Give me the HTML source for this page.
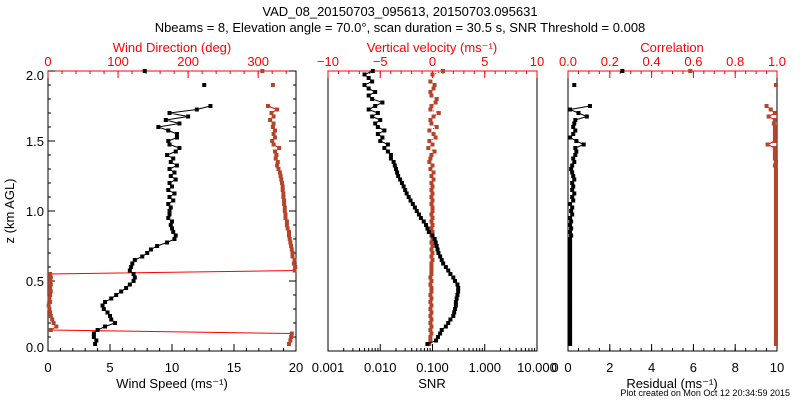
<!DOCTYPE html>
<html><head><meta charset="utf-8"><style>
html,body{margin:0;padding:0;background:#fff;}
svg{display:block;font-family:"Liberation Sans",sans-serif;}
</style></head><body>
<svg id="c" width="800" height="400" xmlns="http://www.w3.org/2000/svg">
<text x="400" y="16" font-size="13" text-anchor="middle">VAD_08_20150703_095613, 20150703.095631</text>
<text x="400" y="32" font-size="13" text-anchor="middle">Nbeams = 8, Elevation angle = 70.0°, scan duration = 30.5 s, SNR Threshold = 0.008</text>
<text transform="translate(14,211) rotate(-90)" font-size="13" text-anchor="middle">z (km AGL)</text>
<text x="790" y="396" font-size="9" text-anchor="end">Plot created on Mon Oct 12 20:34:59 2015</text>
<text x="555" y="372" font-size="13" text-anchor="middle">0</text>
</svg>
<script>
const heights=[0.05,0.075,0.1,0.125,0.15,0.175,0.2,0.225,0.25,0.275,0.3,0.325,0.35,0.375,0.4,0.425,0.45,0.475,0.5,0.525,0.55,0.575,0.6,0.625,0.65,0.675,0.7,0.725,0.75,0.775,0.8,0.825,0.85,0.875,0.9,0.925,0.95,0.975,1.0,1.025,1.05,1.075,1.1,1.125,1.15,1.175,1.2,1.225,1.25,1.275,1.3,1.325,1.35,1.375,1.4,1.425,1.45,1.475,1.5,1.525,1.55,1.575,1.6,1.625,1.65,1.675,1.7,1.725,1.75,1.775,1.8,1.825,1.85,1.875,1.9,1.925,1.95,1.975,2.0];
const windSpeed=[3.8,3.9,3.7,3.7,4.0,4.6,5.4,5.1,5.0,4.8,4.5,4.4,4.6,5.1,5.5,5.9,6.3,6.6,6.9,7.0,6.9,6.6,6.7,6.8,7.0,7.6,8.0,8.3,8.8,9.6,10.2,10.3,10.1,10.0,9.9,10.0,9.7,9.8,9.8,9.9,9.7,10.1,9.8,10.2,9.7,10.0,9.8,10.3,9.9,10.2,9.8,10.4,9.9,10.1,9.6,10.3,10.6,9.8,9.7,10.4,10.4,9.7,8.9,10.6,9.5,11.3,9.8,12.0,13.1,null,null,null,null,null,12.6,null,null,null,7.8];
const windDir=[344,346,347,348,4,12,8,6,4,3,2,1,3,2,3,4,3,4,3,4,3,352,353,351,352,349,349,348,347,346,345,344,344,342,341,341,339,339,338,338,337,337,336,336,335,335,334,333,332,331,329,327,328,325,326,324,330,322,320,324,322,324,321,322,317,322,319,327,314,null,null,null,null,null,321,null,null,null,306];
const vertVel=[-0.3,-0.2,-0.2,-0.1,-0.2,-0.1,-0.2,-0.1,-0.2,-0.1,-0.2,-0.1,-0.2,-0.1,-0.2,-0.1,-0.1,-0.2,-0.1,-0.2,-0.1,-0.1,-0.1,-0.1,0.0,-0.1,0.0,-0.1,0.0,-0.1,0.0,-0.1,0.0,-0.1,0.0,-0.1,0.0,-0.1,0.0,0.0,-0.1,0.0,-0.1,0.0,-0.1,0.0,-0.1,0.1,-0.1,0.1,-0.2,0.0,-0.3,-0.2,-0.1,0.2,-0.4,0.0,-0.3,0.3,0.1,-0.3,0.4,-0.1,-0.2,0.1,0.6,-0.2,-0.1,0.3,0.4,-0.1,-0.2,0.1,0.2,-0.2,null,0.0,1.0];
const snr=[0.08,0.117,0.127,0.14,0.15,0.18,0.2,0.22,0.25,0.26,0.27,0.28,0.28,0.29,0.3,0.31,0.31,0.3,0.27,0.25,0.22,0.2,0.18,0.16,0.15,0.14,0.13,0.125,0.12,0.115,0.11,0.1,0.085,0.08,0.075,0.068,0.06,0.055,0.05,0.046,0.042,0.038,0.035,0.032,0.03,0.028,0.026,0.024,0.022,0.021,0.02,0.019,0.018,0.016,0.016,0.014,0.012,0.014,0.01,0.011,0.009,0.012,0.009,0.008,0.01,0.007,0.009,0.006,0.008,0.011,0.007,0.006,0.008,0.006,0.005,0.007,0.006,0.005,0.0072];
const residual=[0.1,0.1,0.1,0.1,0.1,0.1,0.1,0.1,0.1,0.1,0.1,0.1,0.1,0.1,0.1,0.1,0.1,0.1,0.1,0.1,0.1,0.1,0.1,0.1,0.1,0.1,0.1,0.1,0.1,0.1,0.1,0.15,0.1,0.15,0.1,0.15,0.1,0.2,0.15,0.2,0.1,0.25,0.2,0.3,0.2,0.25,0.2,0.3,0.25,0.2,0.15,0.2,0.3,0.25,0.35,0.4,0.35,0.75,0.4,0.1,0.25,0.35,0.25,0.3,0.35,0.9,0.5,0.1,1.05,null,null,null,null,null,0.3,null,null,null,2.6];
const correlation=[0.995,0.995,0.995,0.995,0.995,0.995,0.995,0.995,0.995,0.995,0.995,0.995,0.995,0.995,0.995,0.995,0.995,0.995,0.995,0.995,0.995,0.995,0.995,0.995,0.995,0.995,0.995,0.995,0.995,0.995,0.995,0.995,0.995,0.995,0.995,0.995,0.995,0.995,0.995,0.995,0.995,0.995,0.995,0.995,0.995,0.995,0.995,0.995,0.995,0.995,0.995,0.99,0.995,0.99,0.99,0.99,0.99,0.955,0.99,0.99,0.99,0.99,0.99,0.985,0.99,0.96,0.99,0.97,0.95,null,null,null,null,null,0.995,null,null,null,0.585];

const NS="http://www.w3.org/2000/svg";
const svg=document.getElementById('c');
const Y0=351,Y1=71;
function yS(z){return Y0-(z-0)/(2-0)*(Y0-Y1);}
function lin(d0,d1,r0,r1){return v=>r0+(v-d0)/(d1-d0)*(r1-r0);}
function logS(d0,d1,r0,r1){return v=>r0+(Math.log10(v)-Math.log10(d0))/(Math.log10(d1)-Math.log10(d0))*(r1-r0);}
function mk(tag,at){const e=document.createElementNS(NS,tag);for(const k in at)e.setAttribute(k,at[k]);svg.appendChild(e);return e;}
function txt(x,y,s,col,anchor){const t=mk('text',{x:x,y:y,'font-size':13,fill:col,'text-anchor':anchor||'middle'});t.textContent=s;return t;}

const RED='#ff0000',BROWN='#b5442a';
const P=[{x0:48,x1:296},{x0:328,x1:537},{x0:568,x1:777}];

function frame(p,name){
  const r=mk('rect',{x:p.x0,y:Y1,width:p.x1-p.x0,height:Y0-Y1,fill:'none',stroke:'#000','stroke-width':1});
  
  
  mk('line',{x1:p.x0,y1:Y1,x2:p.x1,y2:Y1,stroke:RED,'stroke-width':1});
}
function tickLine(x1,y1,x2,y2,c){mk('line',{x1:x1,y1:y1,x2:x2,y2:y2,stroke:c,'stroke-width':1});}
function topAxis(sc,majors,minors,labels,p,name){
  minors.forEach(v=>tickLine(sc(v),Y1,sc(v),Y1+3,RED));
  majors.forEach((v,i)=>{tickLine(sc(v),Y1,sc(v),Y1+7,RED);
    const t=txt(sc(v),66,labels[i],RED);
    
    });
}
function botAxis(sc,majors,minors,labels,p,name){
  minors.forEach(v=>tickLine(sc(v),Y0,sc(v),Y0-3,'#000'));
  majors.forEach((v,i)=>{tickLine(sc(v),Y0,sc(v),Y0-7,'#000');
    const t=txt(sc(v),372,labels[i],'#000');
    
    });
}
function range(a,b,s){const r=[];for(let v=a;v<=b+1e-9;v+=s)r.push(+v.toFixed(6));return r;}
function series(xs,sc,lineCol,markCol,name,dotted){
  let seg=[];const segs=[];
  xs.forEach((v,i)=>{if(v===null){if(seg.length)segs.push(seg);seg=[];}else seg.push([sc(v),yS(heights[i])]);});
  if(seg.length)segs.push(seg);
  segs.forEach(s=>{if(s.length>1){const pl=mk('polyline',{points:s.map(p=>p.join(',')).join(' '),fill:'none',stroke:lineCol,'stroke-width':1});
    if(dotted)pl.setAttribute('stroke-dasharray','1,2');
    
    }});
  xs.forEach((v,i)=>{if(v===null)return;
    const c=mk('rect',{x:sc(v)-2,y:yS(heights[i])-2,width:4,height:4,fill:markCol});
    
    });
}

// Panel 1
const p1=P[0];
frame(p1,'wind-panel-frame');
const sWS=lin(0,20,p1.x0,p1.x1), sWD=lin(0,354,p1.x0,p1.x1);
range(0,2,0.1).forEach(z=>{const mj=Math.abs(z*2-Math.round(z*2))<1e-6;const L=mj?7:3;
  tickLine(p1.x0,yS(z),p1.x0+L,yS(z),'#000');tickLine(p1.x1,yS(z),p1.x1-L,yS(z),'#000');});
['0.0','0.5','1.0','1.5','2.0'].forEach((s,i)=>{const t=txt(44,yS(i*0.5)+5-(i===0?4:0)+(i===4?4:0),s,'#000','end');
  
  });
topAxis(sWD,[0,100,200,300],range(0,340,20),['0','100','200','300'],p1,'wind-direction-axis');
botAxis(sWS,[0,5,10,15,20],range(0,20,1),['0','5','10','15','20'],p1,'wind-speed-axis');
let t=txt(172,52,'Wind Direction (deg)',RED);
t=txt(172,388,'Wind Speed (ms\u207B\u00B9)','#000');
series(windDir,sWD,RED,BROWN,'wind-direction');
series(windSpeed,sWS,'#000','#000','wind-speed');

// Panel 2
const p2=P[1];
frame(p2,'snr-panel-frame');
const sVV=lin(-10,10,p2.x0,p2.x1), sSNR=logS(0.001,10,p2.x0,p2.x1);
topAxis(sVV,[-10,-5,0,5,10],range(-10,10,1),['\u221210','\u22125','0','5','10'],p2,'vertical-velocity-axis');
const logMin=[];[0.001,0.01,0.1,1].forEach(d=>{for(let k=2;k<=9;k++)logMin.push(d*k);});
botAxis(sSNR,[0.001,0.01,0.1,1,10],logMin,['0.001','0.010','0.100','1.000','10.000'],p2,'snr-axis');
t=txt(432,52,'Vertical velocity (ms\u207B\u00B9)',RED);
t=txt(432,388,'SNR','#000');
series(vertVel,sVV,RED,BROWN,'vertical-velocity',true);
series(snr,sSNR,'#000','#000','snr');

// Panel 3
const p3=P[2];
frame(p3,'residual-panel-frame');
const sCor=lin(0,1,p3.x0,p3.x1), sRes=lin(0,10,p3.x0,p3.x1);
topAxis(sCor,[0,0.2,0.4,0.6,0.8,1],range(0,1,0.05),['0.0','0.2','0.4','0.6','0.8','1.0'],p3,'correlation-axis');
botAxis(sRes,[0,2,4,6,8,10],range(0,10,0.5),['0','2','4','6','8','10'],p3,'residual-axis');
t=txt(672,52,'Correlation',RED);
t=txt(672,388,'Residual (ms\u207B\u00B9)','#000');
series(correlation,sCor,RED,BROWN,'correlation');
series(residual,sRes,'#000','#000','residual');
</script>
</body></html>
